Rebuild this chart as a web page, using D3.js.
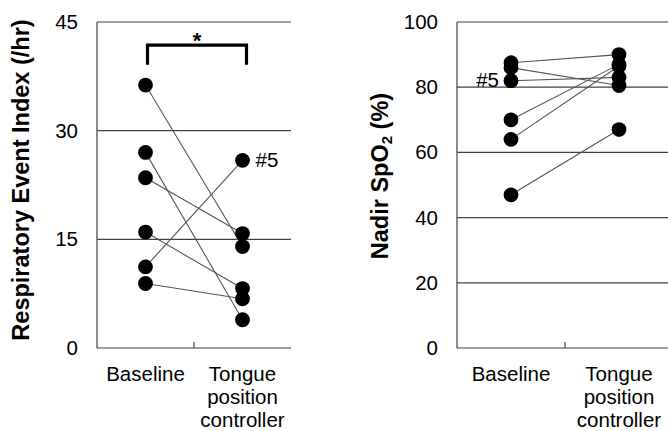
<!DOCTYPE html>
<html>
<head>
<meta charset="utf-8">
<script src="https://cdn.jsdelivr.net/npm/d3@7/dist/d3.min.js"></script>
<style>
  html, body { margin: 0; padding: 0; background: #fff; }
  svg { display: block; font-family: "Liberation Sans", Arial, sans-serif; }
</style>
</head>
<body>
<svg id="chart" width="668" height="431"></svg>
<script>
// ---- data ----
const categories = ["Baseline", "Tongue position controller"];
const categoryLines = [["Baseline"], ["Tongue", "position", "controller"]];

// Respiratory event index (/hr), paired by patient
const reiBaseline = [36.3, 27.0, 23.5, 16.0, 11.2, 8.9];
const reiTongue   = [14.0, 3.9, 15.8, 8.2, 25.9, 6.8];
const reiTicks = [0, 15, 30, 45];
const reiLabelIndex = 4; // patient #5

// Nadir SpO2 (%), paired by patient
const spoBaseline = [87.5, 86, 82, 70, 64, 47];
const spoTongue   = [90, 80.5, 83, 87, 86.5, 67];
const spoTicks = [0, 20, 40, 60, 80, 100];
const spoLabelIndex = 2; // patient #5

const svg = d3.select("#chart");
const lineColor = "#404040";

function panel(cfg) {
  const g = svg.append("g");
  const x = d3.scaleBand().domain(categories).range([cfg.x0, cfg.x1]).padding(0);
  const y = d3.scaleLinear().domain([0, cfg.max]).range([cfg.yb, cfg.yt]);
  const cx = d => x(d) + x.bandwidth() / 2;

  // gridlines (non-zero ticks)
  g.selectAll(".grid").data(cfg.ticks.filter(t => t > 0)).join("line")
    .attr("x1", cfg.x0).attr("x2", cfg.x1)
    .attr("y1", d => y(d)).attr("y2", d => y(d))
    .attr("stroke", lineColor).attr("stroke-width", 1.2);

  // axes lines
  g.append("line").attr("x1", cfg.x0).attr("x2", cfg.x1)
    .attr("y1", y(0)).attr("y2", y(0)).attr("stroke", lineColor).attr("stroke-width", 1.2);
  g.append("line").attr("x1", cfg.x0).attr("x2", cfg.x0)
    .attr("y1", y(0)).attr("y2", y(cfg.max)).attr("stroke", lineColor).attr("stroke-width", 1.2);
  // category separator tick
  g.append("line").attr("x1", cfg.x0 + x.bandwidth()).attr("x2", cfg.x0 + x.bandwidth())
    .attr("y1", y(0)).attr("y2", y(0) - 6).attr("stroke", lineColor).attr("stroke-width", 1.2);

  // tick labels
  g.selectAll(".tl").data(cfg.ticks).join("text")
    .attr("x", cfg.x0 - 19).attr("y", d => y(d) + 7)
    .attr("text-anchor", "end").attr("font-size", 20.5).attr("fill", "#000")
    .text(d => d);

  // category labels
  categories.forEach((c, i) => {
    const t = g.append("text").attr("text-anchor", "middle").attr("font-size", 20.5).attr("fill", "#000");
    categoryLines[i].forEach((ln, j) => {
      t.append("tspan").attr("x", cx(c)).attr("y", 381 + j * 23).text(ln);
    });
  });

  // connecting lines
  const pairs = cfg.base.map((b, i) => [b, cfg.tong[i]]);
  g.selectAll(".pl").data(pairs).join("line")
    .attr("x1", cx(categories[0])).attr("y1", d => y(d[0]))
    .attr("x2", cx(categories[1])).attr("y2", d => y(d[1]))
    .attr("stroke", "#555").attr("stroke-width", 1.1);

  // dots
  g.selectAll(".db").data(cfg.base).join("circle")
    .attr("cx", cx(categories[0])).attr("cy", d => y(d)).attr("r", 7.4).attr("fill", "#000");
  g.selectAll(".dt").data(cfg.tong).join("circle")
    .attr("cx", cx(categories[1])).attr("cy", d => y(d)).attr("r", 7.4).attr("fill", "#000");

  return { g, x, y, cx };
}

// ---- left panel ----
const L = panel({ x0: 97, x1: 291, yt: 22, yb: 348, max: 45, ticks: reiTicks,
                  base: reiBaseline, tong: reiTongue });
// #5 label
L.g.append("text").attr("x", L.cx(categories[1]) + 13).attr("y", L.y(reiTongue[reiLabelIndex]) + 7)
  .attr("font-size", 20.5).text("#5");
// significance bracket
const bx1 = L.cx(categories[0]) + 2, bx2 = L.cx(categories[1]) + 4;
L.g.append("path")
  .attr("d", `M${bx1},${L.y(39.1)}V${L.y(41.8)}H${bx2}V${L.y(39.1)}`)
  .attr("fill", "none").attr("stroke", "#000").attr("stroke-width", 3.2);
L.g.append("text").attr("x", (bx1 + bx2) / 2).attr("y", L.y(41.8) + 3)
  .attr("text-anchor", "middle").attr("font-size", 22).attr("font-weight", "bold").text("*");
// y title
svg.append("text").attr("transform", "translate(29,180) rotate(-90)")
  .attr("text-anchor", "middle").attr("font-size", 23.5).attr("font-weight", "bold")
  .text("Respiratory Event Index (/hr)");

// ---- right panel ----
const R = panel({ x0: 457, x1: 673, yt: 22, yb: 348, max: 100, ticks: spoTicks,
                  base: spoBaseline, tong: spoTongue });
R.g.append("text").attr("x", R.cx(categories[0]) - 12).attr("y", R.y(spoBaseline[spoLabelIndex]) + 6)
  .attr("text-anchor", "end").attr("font-size", 20.5).text("#5");
const yt2 = svg.append("text").attr("transform", "translate(388,176) rotate(-90)")
  .attr("text-anchor", "middle").attr("font-size", 23.5).attr("font-weight", "bold");
yt2.append("tspan").text("Nadir SpO");
yt2.append("tspan").attr("font-size", 15).attr("dy", 4).text("2");
yt2.append("tspan").attr("dy", -4).text(" (%)");
</script>
</body>
</html>
